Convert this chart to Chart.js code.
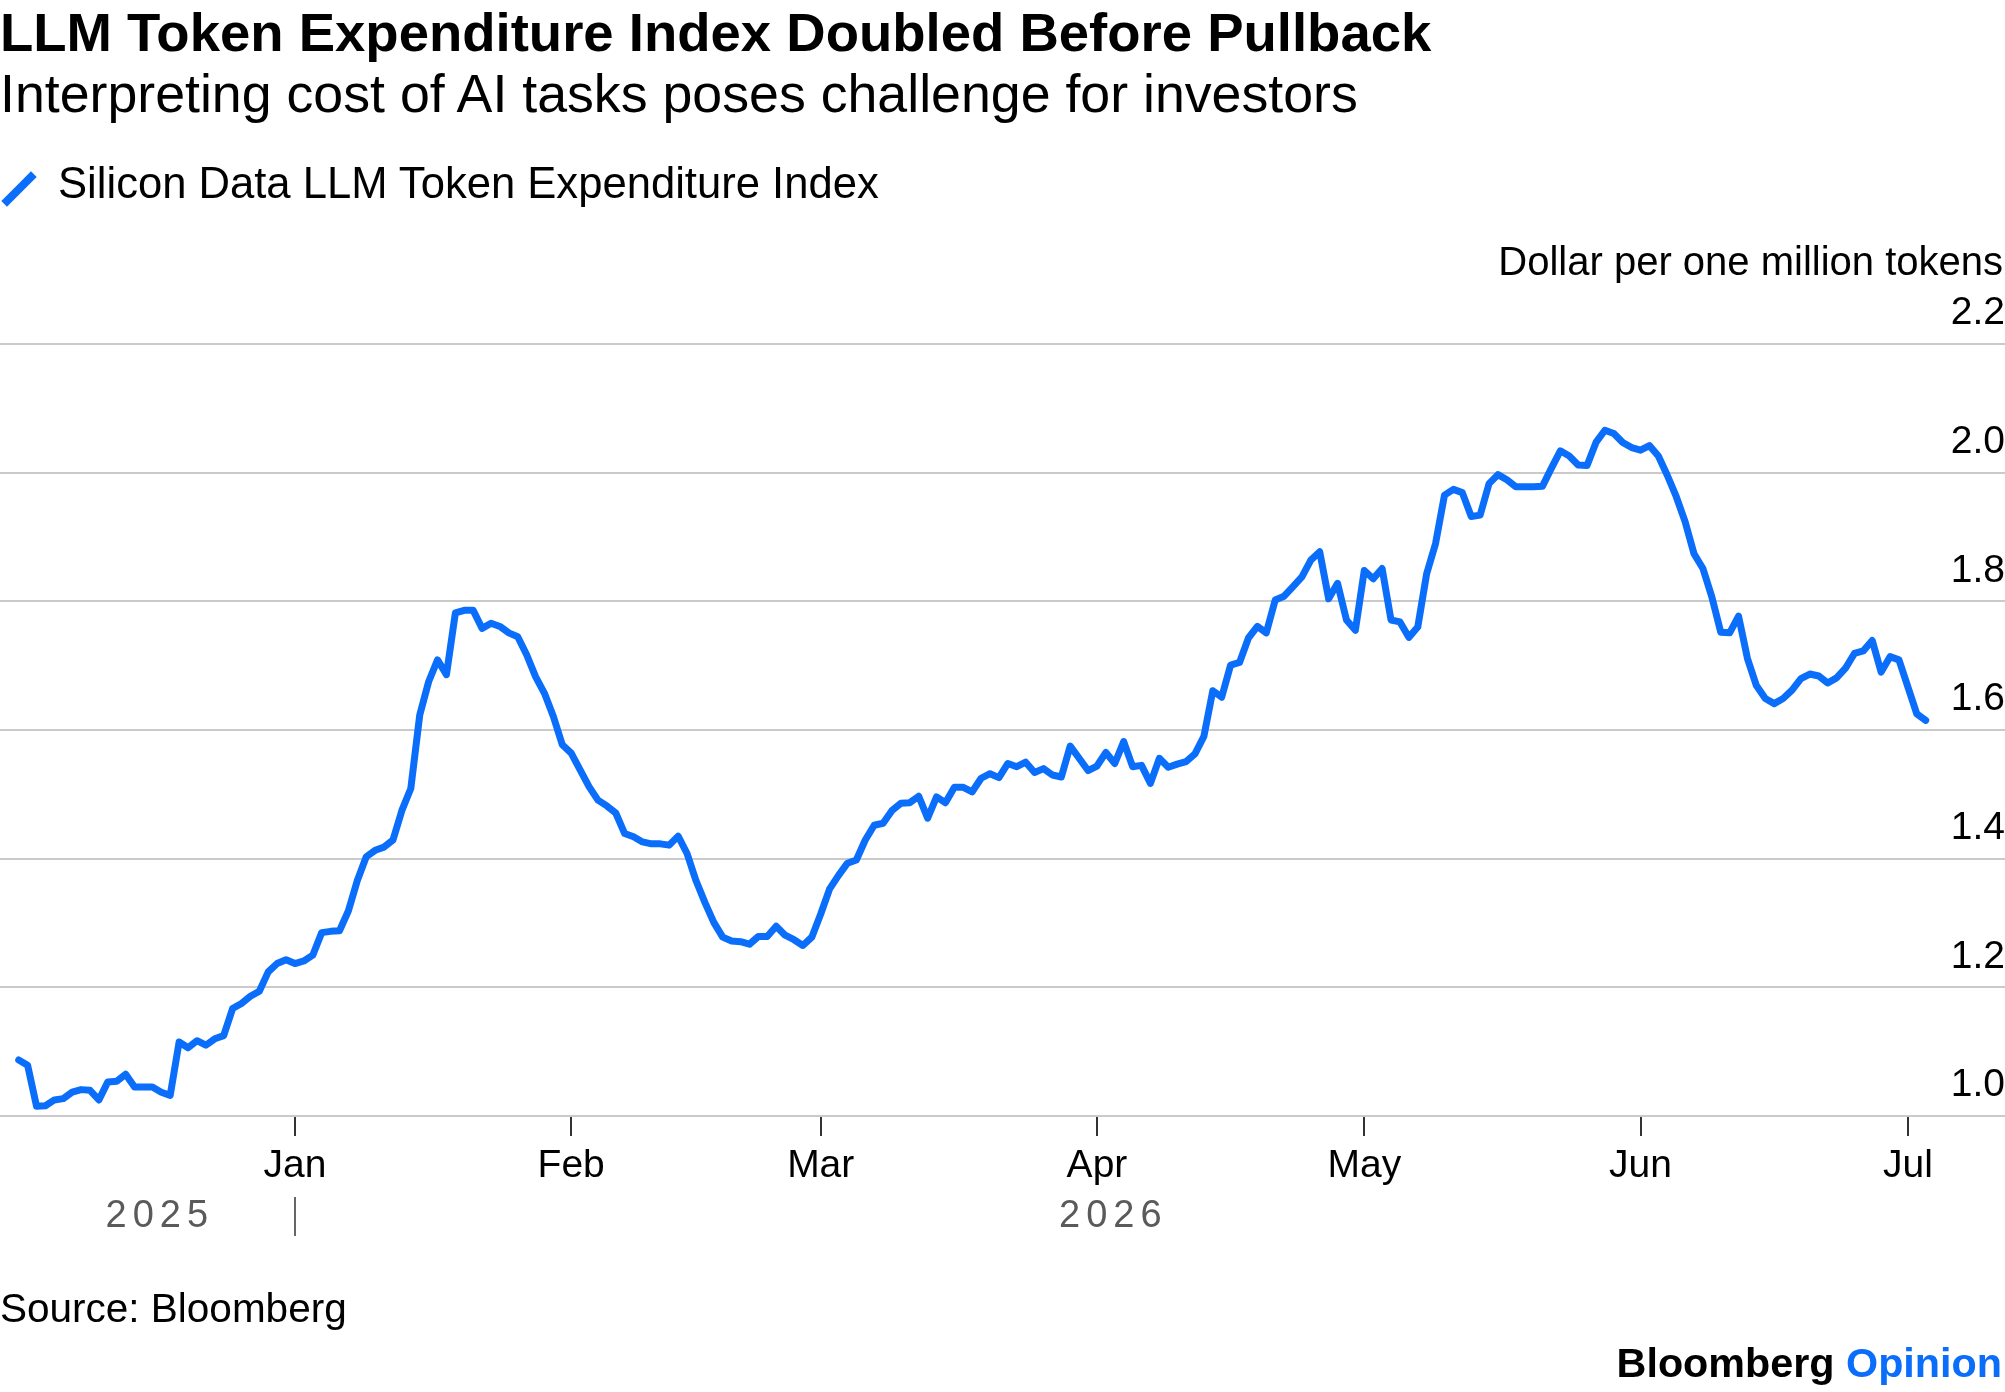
<!DOCTYPE html>
<html>
<head>
<meta charset="utf-8">
<script src="https://cdn.jsdelivr.net/npm/chart.js@4.4.1/dist/chart.umd.min.js"></script>
<style>
  html, body { margin: 0; padding: 0; background: #ffffff; }
  body { width: 2005px; height: 1392px; position: relative; overflow: hidden;
         font-family: "Liberation Sans", Arial, sans-serif; color: #000; }
  #chart { position: absolute; left: 0; top: 0; }
  .t { position: absolute; white-space: nowrap; line-height: 1; z-index: 2; }
  #title { left: 0; top: 5.5px; font-size: 54.5px; font-weight: 700; }
  #subtitle { left: 0; top: 67px; font-size: 53.7px; }
  #legend { left: 58px; top: 162px; font-size: 43.6px; }
  #legendIcon { position: absolute; left: 15px; top: 168px; width: 8px; height: 42px;
                background: #0B6EFA; transform: rotate(45deg); z-index: 2; }
  #units { right: 2px; top: 241px; font-size: 40px; }
  #source { left: 0; top: 1288px; font-size: 40.5px; }
  #logo { right: 3px; top: 1343px; font-size: 41.3px; font-weight: 700; }
  #logo span { color: #0B6EFA; }
</style>
</head>
<body>
<canvas id="chart" width="2005" height="1392"></canvas>
<div class="t" id="title">LLM Token Expenditure Index Doubled Before Pullback</div>
<div class="t" id="subtitle">Interpreting cost of AI tasks poses challenge for investors</div>
<div id="legendIcon"></div>
<div class="t" id="legend">Silicon Data LLM Token Expenditure Index</div>
<div class="t" id="units">Dollar per one million tokens</div>
<div class="t" id="source">Source: Bloomberg</div>
<div class="t" id="logo">Bloomberg <span>Opinion</span></div>
<script>
// ---- data ----
const seriesName = 'Silicon Data LLM Token Expenditure Index';
const startDate = '2025-12-01'; // daily observations from this date
const indexValues = [
  1.087, 1.079, 1.015, 1.016, 1.025, 1.027, 1.037, 1.041, 1.040, 1.025,
  1.053, 1.054, 1.065, 1.045, 1.045, 1.045, 1.037, 1.032, 1.115, 1.106,
  1.117, 1.110, 1.120, 1.125, 1.167, 1.175, 1.186, 1.194, 1.224, 1.237,
  1.243, 1.237, 1.241, 1.250, 1.285, 1.287, 1.288, 1.319, 1.366, 1.403,
  1.413, 1.418, 1.429, 1.475, 1.509, 1.623, 1.675, 1.709, 1.686, 1.782,
  1.786, 1.786, 1.758, 1.766, 1.761, 1.751, 1.745, 1.717, 1.683, 1.657,
  1.621, 1.577, 1.564, 1.538, 1.512, 1.491, 1.482, 1.471, 1.439, 1.434,
  1.426, 1.423, 1.423, 1.421, 1.435, 1.408, 1.366, 1.332, 1.301, 1.278,
  1.272, 1.271, 1.267, 1.279, 1.279, 1.295, 1.281, 1.274, 1.265, 1.278,
  1.314, 1.353, 1.374, 1.393, 1.398, 1.429, 1.452, 1.455, 1.475, 1.486,
  1.487, 1.497, 1.463, 1.496, 1.487, 1.511, 1.511, 1.504, 1.525, 1.532,
  1.526, 1.548, 1.543, 1.550, 1.534, 1.540, 1.530, 1.527, 1.575, 1.556,
  1.537, 1.544, 1.565, 1.548, 1.582, 1.543, 1.545, 1.517, 1.556, 1.542,
  1.547, 1.551, 1.563, 1.590, 1.661, 1.651, 1.701, 1.705, 1.743, 1.761,
  1.751, 1.802, 1.808, 1.823, 1.838, 1.864, 1.877, 1.804, 1.828, 1.771,
  1.755, 1.848, 1.835, 1.851, 1.771, 1.768, 1.744, 1.760, 1.843, 1.890,
  1.965, 1.974, 1.969, 1.932, 1.934, 1.983, 1.997, 1.989, 1.978, 1.978,
  1.978, 1.979, 2.007, 2.034, 2.026, 2.012, 2.011, 2.047, 2.066, 2.061,
  2.047, 2.039, 2.035, 2.042, 2.026, 1.996, 1.963, 1.924, 1.874, 1.851,
  1.807, 1.752, 1.751, 1.777, 1.711, 1.669, 1.649, 1.641, 1.649, 1.662,
  1.680, 1.687, 1.684, 1.673, 1.681, 1.696, 1.719, 1.723, 1.739, 1.690,
  1.714, 1.709, 1.667, 1.625, 1.615
];
const monthTickDates = ['2026-01-01', '2026-02-01', '2026-03-01', '2026-04-01', '2026-05-01', '2026-06-01', '2026-07-01'];
const monthTickLabels = ['Jan', 'Feb', 'Mar', 'Apr', 'May', 'Jun', 'Jul'];
const yearLabels = ['2025', '2026'];
const yearBoundaryDate = '2026-01-01';
const yTickValues = [1.0, 1.2, 1.4, 1.6, 1.8, 2.0, 2.2];

// ---- helpers ----
const DAY = 86400000;
const dayIndex = d => Math.round((Date.parse(d) - Date.parse(startDate)) / DAY);
const points = indexValues.map((v, i) => ({ x: i, y: v }));
const monthTickDays = monthTickDates.map(dayIndex);

const BLUE = '#0B6EFA';
const FONT = "'Liberation Sans', Arial, sans-serif";
Chart.defaults.font.family = FONT;

const yearPlugin = {
  id: 'yearLabels',
  afterDraw(chart) {
    const xs = chart.scales.x;
    const ctx = chart.ctx;
    const bottom = chart.chartArea.bottom;
    const boundary = xs.getPixelForValue(dayIndex(yearBoundaryDate));
    const first = xs.getPixelForValue(0);
    const last = xs.getPixelForValue(indexValues.length - 1);
    ctx.save();
    ctx.fillStyle = '#5a5a5a';
    ctx.font = '38px ' + FONT;
    ctx.textAlign = 'center';
    ctx.textBaseline = 'alphabetic';
    try { ctx.letterSpacing = '6px'; } catch (e) {}
    ctx.fillText(yearLabels[0], (first + boundary) / 2 + 3, bottom + 111);
    ctx.fillText(yearLabels[1], (boundary + last) / 2 + 3, bottom + 111);
    ctx.strokeStyle = '#666666';
    ctx.lineWidth = 2;
    ctx.beginPath();
    ctx.moveTo(Math.round(boundary), bottom + 81);
    ctx.lineTo(Math.round(boundary), bottom + 120);
    ctx.stroke();
    ctx.restore();
  }
};

new Chart(document.getElementById('chart'), {
  type: 'line',
  data: {
    datasets: [{
      label: seriesName,
      data: points,
      borderColor: BLUE,
      borderWidth: 7,
      pointRadius: 0,
      tension: 0,
      borderJoinStyle: 'round',
      borderCapStyle: 'round',
      fill: false
    }]
  },
  options: {
    responsive: false,
    animation: false,
    devicePixelRatio: 1,
    layout: { padding: { top: 344, left: 0, right: 0, bottom: 156 } },
    plugins: { legend: { display: false }, tooltip: { enabled: false }, title: { display: false } },
    scales: {
      x: {
        type: 'linear',
        min: -2.1,
        max: 222.9,
        afterBuildTicks: s => { s.ticks = monthTickDays.map(v => ({ value: v })); },
        afterFit: s => { s.height = 120; },
        ticks: {
          autoSkip: false,
          maxRotation: 0,
          padding: 6.5,
          color: '#000',
          font: { size: 39, family: FONT },
          callback: (v) => monthTickLabels[monthTickDays.indexOf(v)]
        },
        grid: { drawOnChartArea: false, drawTicks: true, tickLength: 20, color: '#333', lineWidth: 2 },
        border: { display: false }
      },
      y: {
        position: 'right',
        min: 1.0,
        max: 2.2,
        afterBuildTicks: s => { s.ticks = yTickValues.map(v => ({ value: v })); },
        afterFit: s => { s.width = 0; },
        ticks: {
          mirror: true,
          padding: 0,
          labelOffset: -30.5,
          color: '#000',
          font: { size: 39, family: FONT },
          callback: v => Number(v).toFixed(1)
        },
        grid: { drawTicks: false, color: '#cacaca', lineWidth: 2 },
        border: { display: false }
      }
    }
  },
  plugins: [yearPlugin]
});
</script>
</body>
</html>
